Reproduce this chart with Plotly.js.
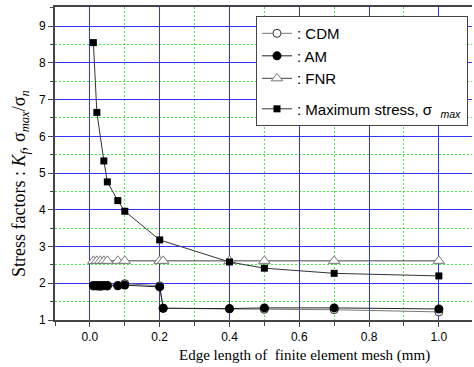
<!DOCTYPE html>
<html><head><meta charset="utf-8">
<script src="https://cdn.plot.ly/plotly-3.0.1.min.js"></script>
<style>html,body{margin:0;padding:0;background:#fff}#c{width:474px;height:367px}</style>
</head><body><div id="c"></div>
<script>
const xFine = [0.01,0.02,0.03,0.04,0.05,0.08,0.1,0.2,0.21,0.4,0.5,0.7,1.0];
const cdm = [1.92,1.92,1.91,1.93,1.92,1.94,1.99,1.93,1.32,1.30,1.29,1.28,1.22];
const am  = [1.94,1.94,1.94,1.94,1.94,1.93,1.95,1.90,1.32,1.31,1.33,1.33,1.30];
const fnr = [2.61,2.61,2.61,2.61,2.61,2.61,2.61,2.61,2.61,2.61,2.61,2.61,2.61];
const xMax = [0.01,0.02,0.04,0.05,0.08,0.1,0.2,0.4,0.5,0.7,1.0];
const maxStress = [8.55,6.65,5.33,4.76,4.25,3.96,3.18,2.58,2.41,2.27,2.20];
const names = [': CDM', ': AM', ': FNR', ': Maximum stress, σ&nbsp;&nbsp;<sub><i>max</i></sub>'];
const xTitle = 'Edge length of  finite element mesh (mm)';
const yTitle = 'Stress factors : <i>K<sub>f</sub></i>, σ<sub><i>max</i></sub>/σ<sub><i>n</i></sub>';

const traces = [
  {x:xFine, y:cdm, name:names[0], mode:'lines+markers', legendgroup:'a',
   line:{color:'#777',width:1}, marker:{symbol:'circle',size:8,color:'#fff',line:{color:'#333',width:1}}},
  {x:xFine, y:am, name:names[1], mode:'lines+markers', legendgroup:'a',
   line:{color:'#222',width:1}, marker:{symbol:'circle',size:9,color:'#000'}},
  {x:xFine, y:fnr, name:names[2], mode:'lines+markers', legendgroup:'a',
   line:{color:'#444',width:1}, marker:{symbol:'triangle-up',size:10,color:'#fff',line:{color:'#777',width:1}}},
  {x:xMax, y:maxStress, name:names[3], mode:'lines+markers', legendgroup:'b',
   line:{color:'#333',width:1}, marker:{symbol:'square',size:7,color:'#000'}}
];

const layout = {
  width:474, height:367,
  margin:{l:55, r:2, t:7, b:47},
  paper_bgcolor:'#fff', plot_bgcolor:'#fff',
  font:{family:'Arial, Liberation Sans', size:12, color:'#000'},
  showlegend:true,
  legend:{x:0.482, y:0.971, xanchor:'left', yanchor:'top', bgcolor:'#fff',
    bordercolor:'#444', borderwidth:1, font:{size:15, family:'Arial, Liberation Sans'},
    traceorder:'grouped', tracegroupgap:8, itemwidth:30},
  xaxis:{range:[-0.1,1.095], tick0:0, dtick:0.2, tickformat:'.1f',
    showgrid:true, gridcolor:'#3333ff', gridwidth:1, zeroline:false,
    showline:true, linecolor:'#444', linewidth:2, mirror:true,
    ticks:'outside', ticklen:5, tickcolor:'#444', tickwidth:1,
    tickfont:{size:12},
    minor:{dtick:0.1, showgrid:true, gridcolor:'#44ee44', griddash:'2px,2px', gridwidth:1,
      ticks:'outside', ticklen:4, tickcolor:'#444'}},
  yaxis:{range:[1,9.52], tick0:1, dtick:1,
    showgrid:true, gridcolor:'#3333ff', gridwidth:1, zeroline:false,
    showline:true, linecolor:'#444', linewidth:2,
    ticks:'outside', ticklen:5, tickcolor:'#444', tickwidth:1,
    tickfont:{size:12},
    minor:{dtick:0.5, showgrid:true, gridcolor:'#44ee44', griddash:'2px,2px', gridwidth:1,
      ticks:'outside', ticklen:3, tickcolor:'#444'}},
  annotations:[
    {text:xTitle, xref:'paper', yref:'paper', x:(304-55)/417, y:-(355-320)/313,
     xanchor:'center', yanchor:'middle', showarrow:false,
     font:{family:'Liberation Serif, Times New Roman', size:15}},
    {text:yTitle, xref:'paper', yref:'paper', x:-(55-20)/417, y:1-(184-7)/313,
     xanchor:'center', yanchor:'middle', showarrow:false, textangle:-90,
     font:{family:'Liberation Serif, Times New Roman', size:18}}
  ]
};
Plotly.newPlot('c', traces, layout, {displayModeBar:false, staticPlot:true});
</script></body></html>
